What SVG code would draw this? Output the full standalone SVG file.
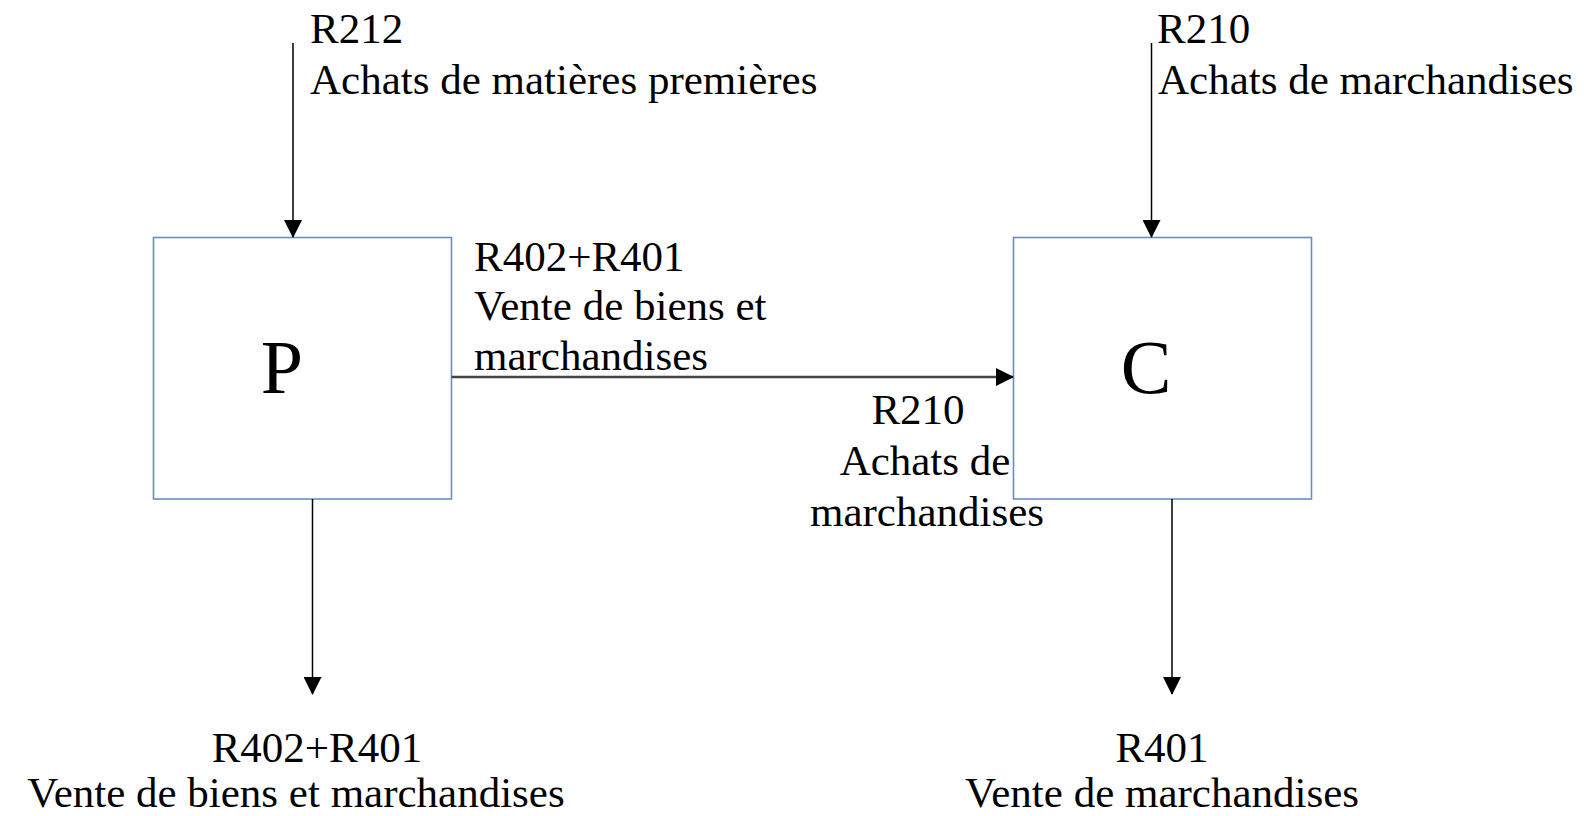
<svg xmlns="http://www.w3.org/2000/svg" width="1584" height="816" viewBox="0 0 1584 816">
<style>
.box{fill:#fff;stroke:#6A8CC6;stroke-width:1.6}
.t{font-family:"Liberation Serif","Times New Roman",serif;font-size:43px;fill:#000}
.big{font-family:"Liberation Serif","Times New Roman",serif;font-size:76px;fill:#000}
.ln{stroke:#000;stroke-width:1.5;fill:none}
.lnh{stroke:#444;stroke-width:2.4;fill:none}
</style>
<defs>
<marker id="ah" viewBox="0 0 18 18" refX="17" refY="9" markerWidth="18" markerHeight="18" markerUnits="userSpaceOnUse" orient="auto">
<path d="M0,0 L18,9 L0,18 Z" fill="#000"/>
</marker>
</defs>
<rect width="1584" height="816" fill="#fff"/>
<g id="node-P">
<rect class="box" x="153.5" y="237.5" width="298" height="261.5"/>
<text class="big" x="282" y="393" text-anchor="middle">P</text>
</g>
<g id="node-C">
<rect class="box" x="1013.5" y="237.5" width="298" height="261.5"/>
<text class="big" x="1146" y="393" text-anchor="middle">C</text>
</g>
<g id="connectors">
<line class="ln" x1="293" y1="43" x2="293" y2="237" marker-end="url(#ah)"/>
<line class="ln" x1="1151.5" y1="43" x2="1151.5" y2="237" marker-end="url(#ah)"/>
<line class="lnh" x1="451.5" y1="377" x2="1013" y2="377" marker-end="url(#ah)"/>
<line class="ln" x1="312.5" y1="499" x2="312.5" y2="694" marker-end="url(#ah)"/>
<line class="ln" x1="1172" y1="499" x2="1172" y2="694" marker-end="url(#ah)"/>
</g>
<g id="labels">
<text class="t" x="310" y="43">R212</text>
<text class="t" x="310" y="94">Achats de matières premières</text>
<text class="t" x="1157" y="43">R210</text>
<text class="t" x="1158" y="94">Achats de marchandises</text>
<text class="t" x="474" y="271">R402+R401</text>
<text class="t" x="474" y="320">Vente de biens et</text>
<text class="t" x="474" y="370">marchandises</text>
<text class="t" x="918" y="424" text-anchor="middle">R210</text>
<text class="t" x="925" y="475" text-anchor="middle">Achats de</text>
<text class="t" x="927" y="526" text-anchor="middle">marchandises</text>
<text class="t" x="317" y="762" text-anchor="middle">R402+R401</text>
<text class="t" x="296" y="807" text-anchor="middle">Vente de biens et marchandises</text>
<text class="t" x="1162" y="762" text-anchor="middle">R401</text>
<text class="t" x="1162" y="807" text-anchor="middle">Vente de marchandises</text>
</g>
</svg>
